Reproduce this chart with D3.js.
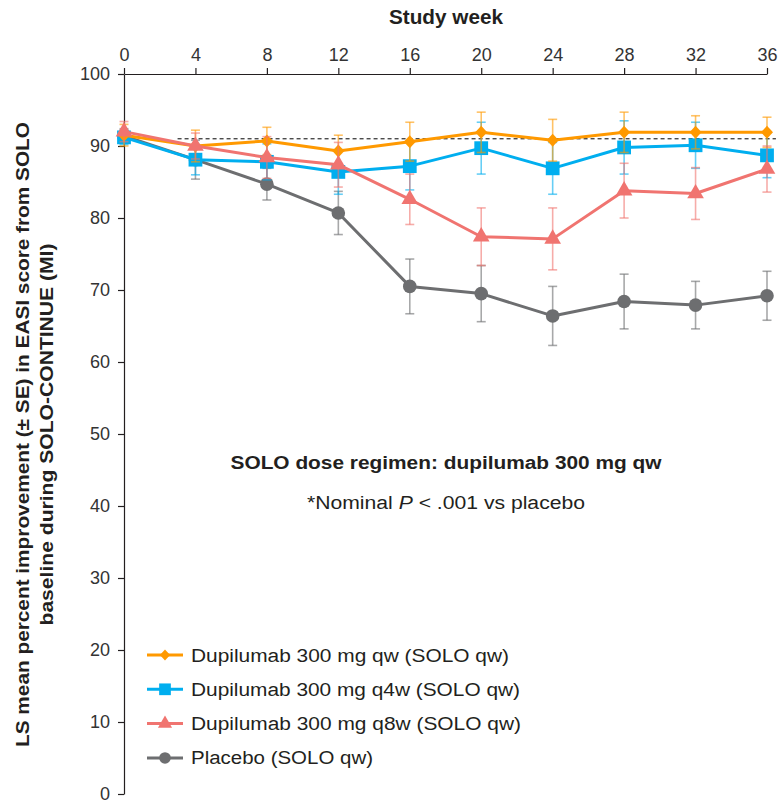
<!DOCTYPE html>
<html lang="en">
<head>
    <meta charset="UTF-8">
    <title>EASI improvement during SOLO-CONTINUE</title>
    <style>
        body {
            margin: 0;
            background: #fff;
        }

        svg text {
            font-family: "Liberation Sans", Arial, Helvetica, sans-serif;
            fill: #231f20;
        }

        .axis path, .axis line {
            stroke: #231f20;
            stroke-width: 1.2px;
        }

        .axis text {
            font-size: 18px;
            fill: #333;
        }

        .series-line {
            fill: none;
            stroke-width: 3px;
            stroke-linejoin: round;
        }

        .err {
            stroke-width: 1.6px;
            stroke-opacity: 0.6;
        }
    </style>
</head>
<body>
<svg width="782" height="805"></svg>
<script src="https://d3js.org/d3.v7.min.js"></script>
<script>
    // study weeks on the top axis
    let weeks = [0, 4, 8, 12, 16, 20, 24, 28, 32, 36];
    let yTicks = [0, 10, 20, 30, 40, 50, 60, 70, 80, 90, 100];

    // LS mean percent improvement and SE
    let qwMean = [91.5, 90.0, 90.7, 89.3, 90.6, 91.9, 90.8, 91.9, 91.9, 91.9];
    let qwSE = [1.5, 2.2, 1.9, 2.2, 2.7, 2.8, 2.9, 2.8, 2.3, 2.1];

    let q4wMean = [91.2, 88.1, 87.8, 86.4, 87.2, 89.7, 86.9, 89.8, 90.1, 88.7];
    let q4wSE = [1.0, 2.1, 2.5, 3.1, 3.3, 3.6, 3.6, 3.7, 3.2, 3.1];

    let q8wMean = [92.0, 90.0, 88.4, 87.4, 82.6, 77.4, 77.1, 83.8, 83.4, 86.8];
    let q8wSE = [1.4, 1.8, 2.9, 3.1, 3.5, 4.0, 4.3, 3.8, 3.6, 3.2];

    let pboMean = [91.4, 88.1, 84.7, 80.7, 70.5, 69.5, 66.4, 68.4, 67.9, 69.2];
    let pboSE = [1.0, 2.7, 2.2, 3.0, 3.8, 3.9, 4.1, 3.8, 3.3, 3.4];

    let referenceLevel = 91;

    let legendLabels = [
        "Dupilumab 300 mg qw (SOLO qw)",
        "Dupilumab 300 mg q4w (SOLO qw)",
        "Dupilumab 300 mg q8w (SOLO qw)",
        "Placebo (SOLO qw)"
    ];

    let series = [
        {label: legendLabels[0], mean: qwMean, se: qwSE, color: "#ff9900", shape: "diamond"},
        {label: legendLabels[1], mean: q4wMean, se: q4wSE, color: "#00aeef", shape: "square"},
        {label: legendLabels[2], mean: q8wMean, se: q8wSE, color: "#f07470", shape: "triangle"},
        {label: legendLabels[3], mean: pboMean, se: pboSE, color: "#6d6e70", shape: "circle"}
    ];
    // drawing order: placebo first, then q4w, qw, q8w on top
    let drawOrder = [3, 1, 0, 2];

    let svg = d3.select("svg");

    let x = d3.scaleLinear().domain([0, 36]).range([124, 767]);
    let y = d3.scaleLinear().domain([0, 100]).range([794, 74]);

    // axes
    svg.append("g")
        .attr("class", "axis")
        .attr("transform", "translate(0," + y(100) + ")")
        .call(d3.axisTop(x).tickValues(weeks).tickSize(6).tickSizeOuter(0).tickPadding(7));

    svg.append("g")
        .attr("class", "axis")
        .attr("transform", "translate(" + x(0) + ",0)")
        .call(d3.axisLeft(y).tickValues(yTicks).tickSize(6).tickSizeOuter(0).tickPadding(8));

    // dashed reference line
    svg.append("line")
        .attr("x1", x(3)).attr("x2", x(36.5))
        .attr("y1", y(referenceLevel)).attr("y2", y(referenceLevel))
        .attr("stroke", "#000")
        .attr("stroke-width", 1)
        .attr("stroke-dasharray", "4,3");

    function markerPath(shape) {
        if (shape == "diamond") return "M0,-6.5L6,0L0,6.5L-6,0Z";
        if (shape == "square") return d3.symbol(d3.symbolSquare, 190)();
        if (shape == "triangle") return d3.symbol(d3.symbolTriangle, 120)();
        return d3.symbol(d3.symbolCircle, 145)();
    }

    let line = d3.line()
        .x(function (d, i) { return x(weeks[i]); })
        .y(function (d) { return y(d); });

    drawOrder.forEach(function (k) {
        let s = series[k];
        let g = svg.append("g");
        let pts = s.mean.map(function (m, i) { return {w: weeks[i], m: m, se: s.se[i]}; });

        let err = g.selectAll(".err")
            .data(pts)
            .enter().append("g")
            .attr("class", "err")
            .attr("stroke", s.color);
        err.append("line")
            .attr("x1", function (d) { return x(d.w); })
            .attr("x2", function (d) { return x(d.w); })
            .attr("y1", function (d) { return y(d.m + d.se); })
            .attr("y2", function (d) { return y(d.m - d.se); });
        err.append("line")
            .attr("x1", function (d) { return x(d.w) - 4.5; })
            .attr("x2", function (d) { return x(d.w) + 4.5; })
            .attr("y1", function (d) { return y(d.m + d.se); })
            .attr("y2", function (d) { return y(d.m + d.se); });
        err.append("line")
            .attr("x1", function (d) { return x(d.w) - 4.5; })
            .attr("x2", function (d) { return x(d.w) + 4.5; })
            .attr("y1", function (d) { return y(d.m - d.se); })
            .attr("y2", function (d) { return y(d.m - d.se); });

        g.append("path")
            .attr("class", "series-line")
            .attr("stroke", s.color)
            .attr("d", line(s.mean));

        g.selectAll(".mk")
            .data(pts)
            .enter().append("path")
            .attr("class", "mk")
            .attr("fill", s.color)
            .attr("transform", function (d) { return "translate(" + x(d.w) + "," + y(d.m) + ")"; })
            .attr("d", markerPath(s.shape));
    });

    // titles
    svg.append("text")
        .attr("x", 446).attr("y", 23.5)
        .attr("text-anchor", "middle")
        .style("font-size", "20px").style("font-weight", "bold")
        .attr("textLength", 114).attr("lengthAdjust", "spacingAndGlyphs")
        .text("Study week");

    let yTitle = svg.append("text")
        .attr("transform", "translate(28.5,434.5) rotate(-90)")
        .attr("text-anchor", "middle")
        .style("font-size", "19px").style("font-weight", "bold");
    yTitle.append("tspan")
        .attr("x", 0).attr("y", 0)
        .attr("textLength", 625).attr("lengthAdjust", "spacingAndGlyphs")
        .text("LS mean percent improvement (\u00b1 SE) in EASI score from SOLO");
    yTitle.append("tspan")
        .attr("x", 0).attr("y", 24.5)
        .attr("textLength", 382).attr("lengthAdjust", "spacingAndGlyphs")
        .text("baseline during SOLO-CONTINUE (MI)");

    svg.append("text")
        .attr("x", 446).attr("y", 469)
        .attr("text-anchor", "middle")
        .style("font-size", "18px").style("font-weight", "bold")
        .attr("textLength", 431).attr("lengthAdjust", "spacingAndGlyphs")
        .text("SOLO dose regimen: dupilumab 300 mg qw");

    let note = svg.append("text")
        .attr("x", 307).attr("y", 509)
        .style("font-size", "18px")
        .attr("textLength", 278).attr("lengthAdjust", "spacingAndGlyphs");
    note.append("tspan").text("*Nominal ");
    note.append("tspan").style("font-style", "italic").text("P");
    note.append("tspan").text(" < .001 vs placebo");

    // legend
    let legendWidths = [318, 329, 330, 182];
    let legend = svg.selectAll(".legend")
        .data(series)
        .enter().append("g")
        .attr("class", "legend")
        .attr("transform", function (d, i) { return "translate(0," + (655 + i * 34.3) + ")"; });
    legend.append("line")
        .attr("x1", 147).attr("x2", 183)
        .attr("stroke", function (d) { return d.color; })
        .attr("stroke-width", 3);
    legend.append("path")
        .attr("transform", "translate(165,0) scale(0.85)")
        .attr("fill", function (d) { return d.color; })
        .attr("d", function (d) { return markerPath(d.shape); });
    legend.append("text")
        .attr("x", 191).attr("y", 6.5)
        .style("font-size", "18px")
        .attr("textLength", function (d, i) { return legendWidths[i]; })
        .attr("lengthAdjust", "spacingAndGlyphs")
        .text(function (d) { return d.label; });
</script>
</body>
</html>
